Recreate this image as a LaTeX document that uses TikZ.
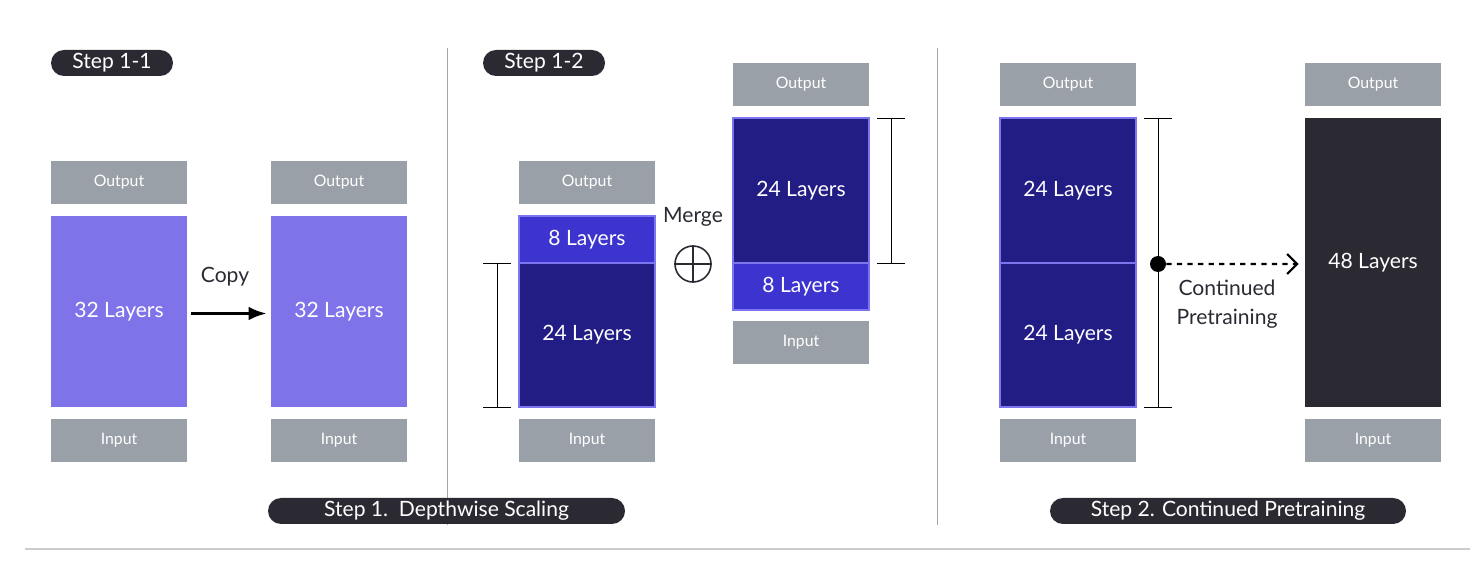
\documentclass[tikz,border=0pt]{standalone}
\usepackage{fontspec}
\setmainfont{Lato}
\usetikzlibrary{arrows.meta,positioning,calc}
\definecolor{pill}{HTML}{2B2A33}
\definecolor{io}{HTML}{9AA0A8}
\definecolor{lilac}{HTML}{7F73EA}
\definecolor{royal}{HTML}{3D33CF}
\definecolor{navy}{HTML}{221C85}
\definecolor{edge}{HTML}{7D74F0}
\tikzset{>=Latex, line/.style={line width=0.8pt},
iobox/.style={fill=io, text=white, minimum width=27.2mm, minimum height=8.6mm, font=\small, inner sep=0pt},
layer/.style={fill=#1, text=white, minimum width=27.2mm, font=\large, inner sep=0pt},
stack/.style={layer=#1, draw=edge, line width=0.8pt},
tag/.style={fill=pill, text=white, rounded corners=2.6mm, minimum height=5.2mm, font=\large, inner sep=0pt},
note/.style={font=\large, text=pill}}
\begin{document}
\begin{tikzpicture}[x=0.2mm,y=-0.2mm]
\useasboundingbox (0,0) rectangle (1484,570);
\draw[gray!40, line width=0.6pt] (25,549) -- (1470,549);
\draw[gray!70, line width=0.5pt] (447,48) -- (447,525);
\draw[gray!70, line width=0.5pt] (937,48) -- (937,525);

% step 1-1
\node[tag, minimum width=24.4mm] (t11) at (112,63) {Step 1-1};
\node[iobox] (o1) at (119,182.5) {Output};
\node[layer=lilac, minimum height=38.2mm] (l1) at (119,311.5) {32 Layers};
\node[iobox] (i1) at (119,440.5) {Input};
\node[iobox] (o2) at (339,182.5) {Output};
\node[layer=lilac, minimum height=38.2mm] (l2) at (339,311.5) {32 Layers};
\node[iobox] (i2) at (339,440.5) {Input};
\draw[->, line width=1.6pt] ($(l1.east)+(4,2)$) -- ($(l2.west)+(-4,2)$);
\node[note] (copy) at (225,277) {Copy};

% step 1-2
\node[tag, minimum width=24.4mm] (t12) at (544,63) {Step 1-2};
\node[iobox] (o3) at (587,182.5) {Output};
\node[stack=royal, minimum height=9.4mm] (e3) at (587,239.5) {8 Layers};
\node[stack=navy, minimum height=28.8mm] (f3) at (587,335) {24 Layers};
\node[iobox] (i3) at (587,440.5) {Input};
\draw[line width=0.5pt] (497,263) -- (497,407) (483,263) -- (511,263) (483,407) -- (511,407);

\node[note] (merge) at (693,217) {Merge};
\node[circle, draw=pill, line width=0.9pt, minimum size=7.2mm, inner sep=0pt] (plus) at (693,264) {};
\draw[pill, line width=0.9pt] (plus.north) -- (plus.south) (plus.west) -- (plus.east);

\node[iobox] (o4) at (801,84.5) {Output};
\node[stack=navy, minimum height=29mm] (f4) at (801,190.5) {24 Layers};
\node[stack=royal, minimum height=9.4mm] (e4) at (801,286.5) {8 Layers};
\node[iobox] (i4) at (801,342.5) {Input};
\draw[line width=0.5pt] (891,118) -- (891,263) (877,118) -- (905,118) (877,263) -- (905,263);

\node[tag, minimum width=71.4mm] (t1) at (446.5,511) {Step 1.~~Depthwise Scaling};

% step 2
\node[iobox] (o5) at (1068,84.5) {Output};
\node[stack=navy, minimum height=29mm] (a5) at (1068,190.5) {24 Layers};
\node[stack=navy, minimum height=28.8mm] (b5) at (1068,335) {24 Layers};
\node[iobox] (i5) at (1068,440.5) {Input};
\draw[line width=0.5pt] (1158,118) -- (1158,407) (1144,118) -- (1172,118) (1144,407) -- (1172,407);

\node[iobox] (o6) at (1373,84.5) {Output};
\node[layer=pill, minimum height=57.8mm] (l6) at (1373,262.5) {48 Layers};
\node[iobox] (i6) at (1373,440.5) {Input};

\node[circle, fill=black, minimum size=3.2mm, inner sep=0pt] (dot) at (1158,264) {};
\draw[->, dashed, line width=1.2pt, >={Straight Barb[length=2mm]}] (dot) -- ($(l6.west)+(-6,1.5)$);
\node[note, align=center] (cont) at (1227,304) {Continued\\[1mm]Pretraining};

\node[tag, minimum width=71.2mm] (t2) at (1228,511) {Step 2. Continued Pretraining};
\end{tikzpicture}
\end{document}
